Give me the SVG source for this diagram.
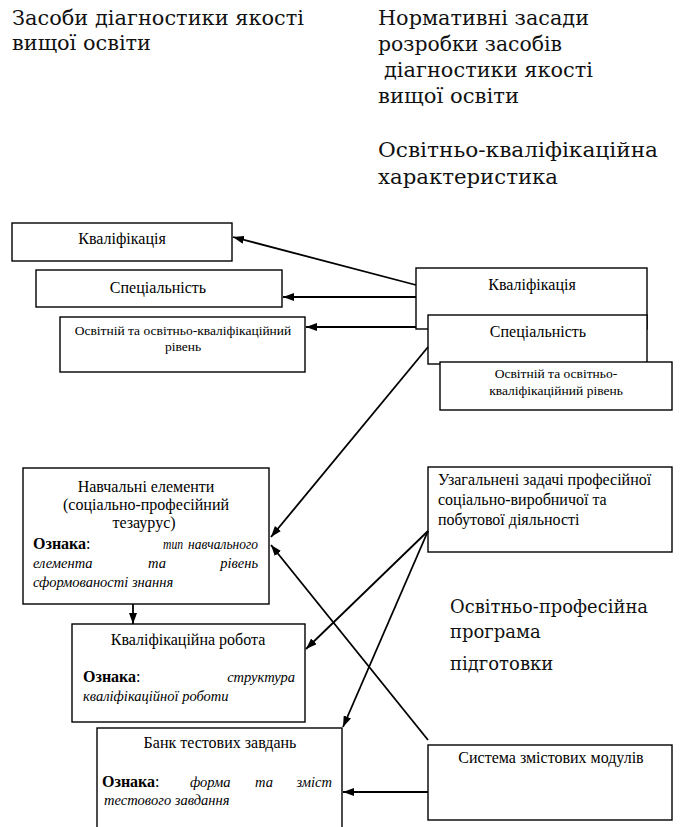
<svg xmlns="http://www.w3.org/2000/svg" width="682" height="827" viewBox="0 0 682 827">
<defs>
<marker id="ah" viewBox="0 0 11 8" refX="11" refY="4" markerWidth="11" markerHeight="8" markerUnits="userSpaceOnUse" orient="auto"><path d="M0,0 L11,4 L0,8 z" fill="#000"/></marker>
</defs>
<style>
.box{fill:#fff;stroke:#000;stroke-width:1.4}
.h{font-size:20px;fill:#111}
.h2{font-size:18px;fill:#111}
.t{font-size:16px;fill:#000}
.m{text-anchor:middle}
.e{text-anchor:end}
.s{font-size:13.5px}
.b{font-weight:bold}
.i{font-style:italic;font-size:14.5px}
.c{stroke:#000;stroke-width:1.8;fill:none;marker-end:url(#ah)}
</style>
<rect width="682" height="827" fill="#fff"/>

<g id="headings" font-family="'DejaVu Serif', 'Liberation Serif', serif">
<text class="h" x="12" y="25" textLength="292" lengthAdjust="spacingAndGlyphs">Засоби діагностики якості</text>
<text class="h" x="12" y="50" textLength="139" lengthAdjust="spacingAndGlyphs">вищої освіти</text>
<text class="h" x="378" y="25" textLength="211" lengthAdjust="spacingAndGlyphs">Нормативні засади</text>
<text class="h" x="378" y="51" textLength="184" lengthAdjust="spacingAndGlyphs">розробки засобів</text>
<text class="h" x="384" y="77" textLength="209" lengthAdjust="spacingAndGlyphs">діагностики якості</text>
<text class="h" x="378" y="103" textLength="141" lengthAdjust="spacingAndGlyphs">вищої освіти</text>
<text class="h" x="378" y="157" textLength="280" lengthAdjust="spacingAndGlyphs">Освітньо-кваліфікаційна</text>
<text class="h" x="378" y="184" textLength="180" lengthAdjust="spacingAndGlyphs">характеристика</text>
<text class="h2" x="450" y="613" textLength="198" lengthAdjust="spacingAndGlyphs">Освітньо-професійна</text>
<text class="h2" x="450" y="638">програма</text>
<text class="h2" x="450" y="670">підготовки</text>
</g>

<g font-family="'Liberation Serif', 'Times New Roman', serif">
<g id="left-kvalifikatsiia">
<rect class="box" x="12" y="223" width="220" height="38"/>
<text class="t m" x="122" y="244">Кваліфікація</text>
</g>
<g id="left-spetsialnist">
<rect class="box" x="36" y="270" width="246" height="37"/>
<text class="t m" x="158" y="293">Спеціальність</text>
</g>
<g id="left-riven">
<rect class="box" x="60" y="317" width="245" height="55"/>
<text class="t s m" x="183" y="335">Освітній та освітньо-кваліфікаційний</text>
<text class="t s m" x="183" y="351">рівень</text>
</g>

<g id="right-kvalifikatsiia">
<rect class="box" x="416" y="268" width="231" height="61"/>
<text class="t m" x="532" y="290">Кваліфікація</text>
</g>
<g id="right-spetsialnist">
<rect class="box" x="428" y="315" width="219" height="49"/>
<text class="t m" x="538" y="337">Спеціальність</text>
</g>
<g id="right-riven">
<rect class="box" x="440" y="362" width="232" height="48"/>
<text class="t s m" x="556" y="378">Освітній та освітньо-</text>
<text class="t s m" x="556" y="395">кваліфікаційний рівень</text>
</g>

<g id="navchalni-elementy">
<rect class="box" x="23" y="468" width="246" height="136"/>
<text class="t m" x="146" y="492">Навчальні елементи</text>
<text class="t m" x="146" y="510">(соціально-професійний</text>
<text class="t m" x="144" y="528">тезаурус)</text>
<text class="t" x="33" y="549"><tspan class="b">Ознака</tspan>:</text>
<text class="t i" x="163" y="549" textLength="20" lengthAdjust="spacingAndGlyphs">тип</text>
<text class="t i" x="188" y="549" textLength="70" lengthAdjust="spacingAndGlyphs">навчального</text>
<text class="t i" x="33" y="568">елемента</text>
<text class="t i m" x="157" y="568">та</text>
<text class="t i e" x="258" y="568">рівень</text>
<text class="t i" x="33" y="587">сформованості знання</text>
</g>

<g id="uzahalneni-zadachi">
<rect class="box" x="428" y="467" width="244" height="85"/>
<text class="t" x="438" y="485">Узагальнені задачі професійної</text>
<text class="t" x="438" y="505">соціально-виробничої та</text>
<text class="t" x="438" y="525">побутової діяльності</text>
</g>

<g id="kvalifikatsiina-robota">
<rect class="box" x="72" y="624" width="233" height="98"/>
<text class="t m" x="188" y="645">Кваліфікаційна робота</text>
<text class="t" x="83" y="682"><tspan class="b">Ознака</tspan>:</text>
<text class="t i e" x="295" y="682">структура</text>
<text class="t i" x="83" y="701">кваліфікаційної роботи</text>
</g>

<g id="bank-testovykh-zavdan">
<rect class="box" x="97" y="728" width="245" height="120"/>
<text class="t m" x="220" y="748">Банк тестових завдань</text>
<text class="t" x="102" y="787"><tspan class="b">Ознака</tspan>:</text>
<text class="t i" x="190" y="787">форма</text>
<text class="t i" x="255" y="787">та</text>
<text class="t i e" x="332" y="787">зміст</text>
<text class="t i" x="104" y="805">тестового завдання</text>
</g>

<g id="systema-modulii">
<rect class="box" x="428" y="745" width="244" height="75"/>
<text class="t m" x="551" y="763" font-size="16.5">Система змістових модулів</text>
</g>
</g>

<g id="connectors">
<line class="c" x1="416" y1="285" x2="233" y2="237"/>
<line class="c" x1="416" y1="297" x2="283" y2="297"/>
<line class="c" x1="416" y1="327" x2="306" y2="327"/>
<line class="c" x1="428" y1="347" x2="271" y2="537"/>
<line class="c" x1="428" y1="740" x2="271" y2="545"/>
<line class="c" x1="428" y1="531" x2="306" y2="649"/>
<line class="c" x1="428" y1="531" x2="343" y2="727"/>
<line class="c" x1="133" y1="604" x2="133" y2="624"/>
<line class="c" x1="428" y1="792" x2="343" y2="792"/>
</g>
</svg>
